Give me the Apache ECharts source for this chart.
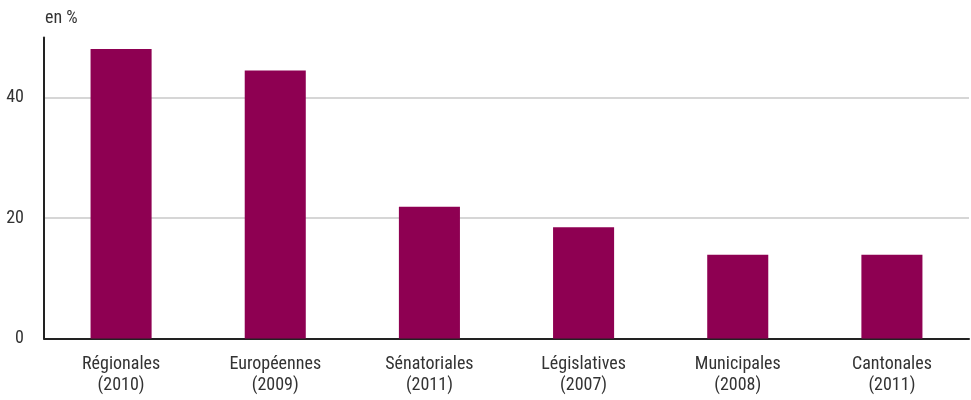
<!DOCTYPE html>
<html>
<head>
<meta charset="utf-8">
<script src="https://cdn.jsdelivr.net/npm/echarts@6/dist/echarts.min.js"></script>
<style>
  html, body { margin: 0; padding: 0; background: #fff; }
  #chart { width: 971px; height: 400px; }
</style>
</head>
<body>
<div id="chart"></div>
<script>
// taux d'abstention par type d'élection
const categories = ['Régionales\n(2010)', 'Européennes\n(2009)', 'Sénatoriales\n(2011)', 'Législatives\n(2007)', 'Municipales\n(2008)', 'Cantonales\n(2011)'];
const values = [48.1, 44.5, 21.9, 18.5, 13.9, 13.9];
const yTicks = [0, 20, 40];

const FONT = '"Liberation Sans Narrow", "Roboto Condensed", "DejaVu Sans Condensed", sans-serif';
const TXT = '#333';

const chart = echarts.init(document.getElementById('chart'));
chart.setOption({
    animation: false,
    title: {
        text: 'en %',
        left: 40,
        top: 4,
        textStyle: { fontFamily: FONT, fontSize: 18, fontWeight: 'normal', color: TXT }
    },
    grid: { left: 44, right: 2, top: 37.5, bottom: 61.5, containLabel: false },
    xAxis: {
        type: 'category',
        data: categories,
        axisLine: { lineStyle: { color: '#222', width: 2 } },
        axisTick: { show: false },
        axisLabel: { fontFamily: FONT, fontSize: 18, color: TXT, margin: 15, lineHeight: 21 }
    },
    yAxis: {
        type: 'value',
        min: 0,
        max: 50,
        interval: 20,
        axisLine: { show: true, lineStyle: { color: '#222', width: 2 } },
        axisTick: { show: false },
        axisLabel: {
            fontFamily: FONT, fontSize: 18, color: TXT, margin: 20,
            showMaxLabel: false,
            formatter: v => (yTicks.indexOf(v) >= 0 ? String(v) : '')
        },
        splitLine: { show: true, showMinLine: false, showMaxLine: false, lineStyle: { color: '#c8c8c8', width: 1.5 } }
    },
    series: [{
        type: 'bar',
        data: values,
        barWidth: '39.6%',
        itemStyle: { color: '#8e0052' }
    }]
});
</script>
</body>
</html>
